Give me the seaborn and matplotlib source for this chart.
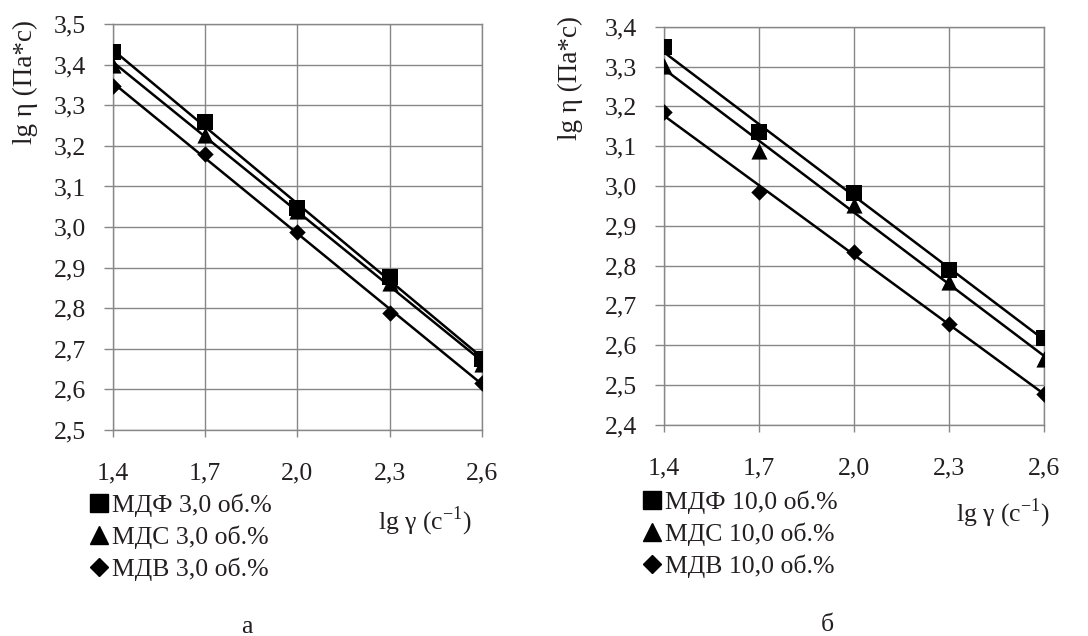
import matplotlib
matplotlib.use('Agg')
import matplotlib.pyplot as plt
from matplotlib.lines import Line2D
import numpy as np
import seaborn as sns

sns.set_style("whitegrid")
plt.rcParams['font.family'] = ['Liberation Serif', 'DejaVu Serif']
plt.rcParams['mathtext.fontset'] = 'custom'
plt.rcParams['mathtext.rm'] = 'Liberation Serif'

# lg of shear rate
lg_gamma = [1.4, 1.7, 2.0, 2.3, 2.6]

# panel a: 3,0 vol.%
mdf_3 = [3.431, 3.258, 3.047, 2.877, 2.675]
mds_3 = [3.400, 3.227, 3.040, 2.862, 2.662]
mdv_3 = [3.348, 3.180, 2.988, 2.788, 2.616]

# panel б: 10,0 vol.%
mdf_10 = [3.348, 3.136, 2.982, 2.790, 2.619]
mds_10 = [3.302, 3.088, 2.953, 2.760, 2.566]
mdv_10 = [3.186, 2.984, 2.834, 2.654, 2.478]

labels_3 = ['МДФ 3,0 об.%', 'МДС 3,0 об.%', 'МДВ 3,0 об.%']
labels_10 = ['МДФ 10,0 об.%', 'МДС 10,0 об.%', 'МДВ 10,0 об.%']
markers = ['s', '^', 'D']
sizes = [125, 135, 70]
x_ticks = [1.4, 1.7, 2.0, 2.3, 2.6]
x_ticklabels = ['1,4', '1,7', '2,0', '2,3', '2,6']

GRID = '#878787'
TXT = '#231f20'
FS = 18.5

fig = plt.figure(figsize=(10.88, 6.36), dpi=100)


def panel(rect, series, labels, ylim, yticks, ylab_xy, xlab_xy, leg_xy):
    ax = fig.add_axes(rect)
    for y, m, s in zip(series, markers, sizes):
        sns.regplot(x=np.array(lg_gamma), y=np.array(y), ax=ax, ci=None,
                    marker=m, color='black',
                    scatter_kws={'s': s, 'alpha': 1, 'zorder': 3, 'linewidths': 0},
                    line_kws={'lw': 1.8, 'zorder': 2})
    ax.set_xlim(1.4, 2.6)
    ax.set_ylim(*ylim)
    ax.set_xticks(x_ticks)
    ax.set_xticklabels(x_ticklabels)
    ax.set_yticks(yticks)
    ax.set_yticklabels([f'{v:.1f}'.replace('.', ',') for v in yticks])
    ax.grid(True, color=GRID, lw=1)
    for sp in ax.spines.values():
        sp.set_visible(True)
        sp.set_color(GRID)
        sp.set_linewidth(1)
    ax.tick_params(axis='x', bottom=True, length=5, width=1, color=GRID,
                   pad=18.5, labelsize=FS, labelcolor=TXT)
    ax.tick_params(axis='y', left=True, length=6.5, width=1, color=GRID,
                   pad=13, labelsize=FS, labelcolor=TXT)
    ax.set_ylabel('lg η (Па*с)', fontsize=19.5, color=TXT)
    ax.yaxis.set_label_coords(*ylab_xy)
    ax.set_xlabel(r'lg γ (с$^{\mathrm{-1}}$)', fontsize=FS, color=TXT)
    ax.xaxis.set_label_coords(*xlab_xy)
    handles = [Line2D([], [], linestyle='none', marker=m, color='black',
                      markersize=ms) for m, ms in zip(markers, [12.5, 12.5, 9])]
    ax.legend(handles, labels, loc='upper left', bbox_to_anchor=leg_xy,
              bbox_transform=fig.transFigure, frameon=False, fontsize=FS,
              handlelength=0.8, handletextpad=0.1, labelspacing=0.33,
              borderpad=0, borderaxespad=0, labelcolor=TXT)
    return ax


panel([0.1039, 0.324, 0.339, 0.638], [mdf_3, mds_3, mdv_3], labels_3,
      (2.5, 3.5), np.round(np.arange(2.5, 3.51, 0.1), 1),
      (-0.203, 0.857), (0.846, -0.185), (0.082, 0.224))
panel([0.6103, 0.332, 0.349, 0.626], [mdf_10, mds_10, mdv_10], labels_10,
      (2.4, 3.4), np.round(np.arange(2.4, 3.41, 0.1), 1),
      (-0.213, 0.872), (0.892, -0.181), (0.590, 0.229))

fig.text(0.227, 0.014, 'а', fontsize=FS, ha='center', va='center', color=TXT)
fig.text(0.760, 0.017, 'б', fontsize=FS, ha='center', va='center', color=TXT)

fig.savefig('out.png', dpi=100, facecolor='white')
